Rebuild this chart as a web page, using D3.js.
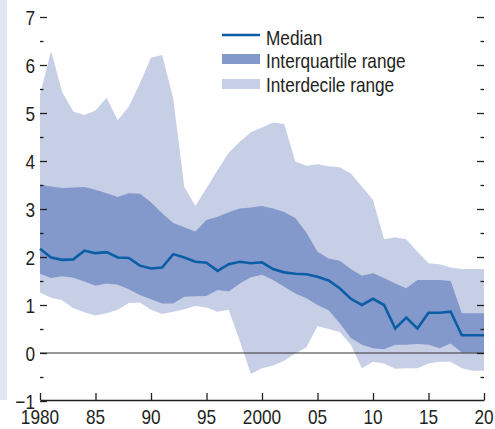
<!DOCTYPE html>
<html>
<head>
<meta charset="utf-8">
<script src="https://cdn.jsdelivr.net/npm/d3@7"></script>
<style>
  html, body { margin: 0; padding: 0; background: #fff; }
  svg { display: block; }
  text { font-family: "Liberation Sans", Arial, sans-serif; fill: #231f20; }
</style>
</head>
<body>
<svg id="chart" width="495" height="429"></svg>
<script>
// ====
// DATA
// ====

const years = d3.range(1980, 2021);

const p90 = [5.38, 6.29, 5.43, 5.03, 4.96, 5.05, 5.32, 4.85, 5.13, 5.62,
  6.15, 6.21, 5.30, 3.46, 3.06, 3.43, 3.81, 4.17, 4.40, 4.60,
  4.70, 4.80, 4.77, 3.99, 3.90, 3.93, 3.89, 3.87, 3.74, 3.47,
  3.19, 2.37, 2.41, 2.37, 2.11, 1.87, 1.85, 1.78, 1.75, 1.75, 1.75];

const p75 = [3.51, 3.47, 3.44, 3.45, 3.46, 3.40, 3.33, 3.25, 3.33, 3.32,
  3.14, 2.91, 2.71, 2.62, 2.53, 2.77, 2.84, 2.93, 3.01, 3.03,
  3.06, 3.01, 2.94, 2.81, 2.51, 2.11, 1.97, 1.92, 1.75, 1.61,
  1.66, 1.56, 1.45, 1.35, 1.52, 1.52, 1.52, 1.50, 0.83, 0.83, 0.83];

const median = [2.17, 1.99, 1.94, 1.95, 2.13, 2.08, 2.10, 1.99, 1.98, 1.82,
  1.76, 1.78, 2.06, 1.99, 1.90, 1.88, 1.71, 1.85, 1.90, 1.87,
  1.89, 1.75, 1.68, 1.65, 1.64, 1.59, 1.51, 1.35, 1.13, 1.00,
  1.13, 1.00, 0.51, 0.74, 0.51, 0.84, 0.84, 0.86, 0.37, 0.37, 0.37];

const p25 = [1.65, 1.56, 1.60, 1.57, 1.49, 1.40, 1.45, 1.42, 1.33, 1.21,
  1.12, 1.03, 1.03, 1.17, 1.18, 1.19, 1.31, 1.28, 1.45, 1.58,
  1.63, 1.52, 1.38, 1.24, 1.14, 1.00, 0.89, 0.62, 0.31, 0.17,
  0.10, 0.08, 0.17, 0.17, 0.19, 0.17, 0.10, 0.20, 0.01, 0.01, 0.01];

const p10 = [1.26, 1.15, 1.10, 0.93, 0.85, 0.78, 0.83, 0.90, 1.04, 1.05,
  0.90, 0.81, 0.86, 0.91, 0.98, 0.95, 0.86, 0.90, 0.25, -0.44,
  -0.32, -0.26, -0.16, -0.01, 0.12, 0.56, 0.50, 0.44, 0.17, -0.32,
  -0.18, -0.22, -0.33, -0.32, -0.32, -0.22, -0.18, -0.18, -0.32, -0.37, -0.37];

const xTicks = [1980, 1985, 1990, 1995, 2000, 2005, 2010, 2015, 2020];
const xTickLabels = ["1980", "85", "90", "95", "2000", "05", "10", "15", "20"];
const yTicks = [-1, 0, 1, 2, 3, 4, 5, 6, 7];
const yTickLabels = ["\u22121", "0", "1", "2", "3", "4", "5", "6", "7"];
const legendLabels = ["Median", "Interquartile range", "Interdecile range"];

// colours
const cMedian = "#0b5ea6";
const cIqr = "#8399cb";
const cIdr = "#c6cfe6";
const cInk = "#231f20";

// no narrow font installed, so squeeze Liberation Sans like Arial Narrow
const narrow = 0.82;
const fontSize = 21;

// ======
// SCALES
// ======

const svg = d3.select("#chart");

const x = d3.scaleLinear().domain([1980, 2020]).range([40, 484]);
const y = d3.scaleLinear().domain([-1, 7]).range([401, 17]);

// left background strip
svg.append("rect")
  .attr("x", 0).attr("y", 0)
  .attr("width", 7).attr("height", 400)
  .attr("fill", "#e2e6f3");

// =====
// AREAS
// =====

const rows = years.map((yr, i) => ({
  yr: yr, p10: p10[i], p25: p25[i], med: median[i], p75: p75[i], p90: p90[i]
}));

svg.append("path")
  .datum(rows)
  .attr("fill", cIdr)
  .attr("d", d3.area().x(d => x(d.yr)).y0(d => y(d.p10)).y1(d => y(d.p90)));

svg.append("path")
  .datum(rows)
  .attr("fill", cIqr)
  .attr("d", d3.area().x(d => x(d.yr)).y0(d => y(d.p25)).y1(d => y(d.p75)));

// zero line
svg.append("line")
  .attr("x1", x(1980)).attr("x2", x(2020))
  .attr("y1", y(0)).attr("y2", y(0))
  .attr("stroke", "#333").attr("stroke-width", 1.2);

svg.append("path")
  .datum(rows)
  .attr("fill", "none")
  .attr("stroke", cMedian)
  .attr("stroke-width", 2.6)
  .attr("d", d3.line().x(d => x(d.yr)).y(d => y(d.med)));

// ====
// AXES
// ====

const yMinor = d3.range(-0.5, 7, 1);

// left axis: ticks point inward, no domain line
const left = svg.append("g").attr("transform", "translate(" + x(1980) + ",0)");
left.call(d3.axisRight(y).tickValues(yTicks).tickSize(7).tickFormat(""))
  .call(g => g.select(".domain").remove());
left.append("g")
  .call(d3.axisRight(y).tickValues(yMinor).tickSize(3.5).tickFormat(""))
  .call(g => g.select(".domain").remove());
left.selectAll("line").attr("stroke", cInk).attr("stroke-width", 1.3);

svg.append("g")
  .selectAll("text")
  .data(yTicks)
  .enter()
  .append("text")
  .attr("transform", d => "translate(35," + y(d) + ") scale(" + narrow + ",1)")
  .attr("dy", "0.36em")
  .attr("text-anchor", "end")
  .attr("font-size", fontSize)
  .text((d, i) => yTickLabels[i]);

// right axis
const right = svg.append("g").attr("transform", "translate(" + x(2020) + ",0)");
right.call(d3.axisLeft(y).tickValues(yTicks.filter(d => d > -1)).tickSize(7).tickFormat(""))
  .call(g => g.select(".domain").remove());
right.append("g")
  .call(d3.axisLeft(y).tickValues(yMinor).tickSize(3.5).tickFormat(""))
  .call(g => g.select(".domain").remove());
right.selectAll("line").attr("stroke", cInk).attr("stroke-width", 1.3);

// bottom axis: ticks pointing up
const bottom = svg.append("g").attr("transform", "translate(0," + (y(-1) - 1) + ")");
bottom.call(d3.axisTop(x).tickValues(xTicks).tickSize(7).tickFormat("").tickSizeOuter(0));
bottom.select(".domain").attr("stroke", cInk).attr("stroke-width", 1.5);
bottom.selectAll(".tick line").attr("stroke", cInk).attr("stroke-width", 1.3);

svg.append("g")
  .selectAll("text")
  .data(xTicks)
  .enter()
  .append("text")
  .attr("transform", d => "translate(" + x(d) + ",424) scale(" + narrow + ",1)")
  .attr("text-anchor", "middle")
  .attr("font-size", fontSize)
  .text((d, i) => xTickLabels[i]);

// ======
// LEGEND
// ======

const legend = svg.append("g").attr("transform", "translate(222,0)");

legend.append("line")
  .attr("x1", 0).attr("x2", 38)
  .attr("y1", 35).attr("y2", 35)
  .attr("stroke", cMedian).attr("stroke-width", 2.6);
legend.append("rect")
  .attr("x", 0).attr("y", 54).attr("width", 38).attr("height", 10)
  .attr("fill", cIqr);
legend.append("rect")
  .attr("x", 0).attr("y", 79).attr("width", 38).attr("height", 10)
  .attr("fill", cIdr);

legend.selectAll(".lab")
  .data(legendLabels)
  .enter()
  .append("text")
  .attr("class", "lab")
  .attr("transform", (d, i) => "translate(44," + (37 + i * 23.5) + ") scale(" + narrow + ",1)")
  .attr("dy", "0.36em")
  .attr("font-size", fontSize)
  .text(d => d);
</script>
</body>
</html>
